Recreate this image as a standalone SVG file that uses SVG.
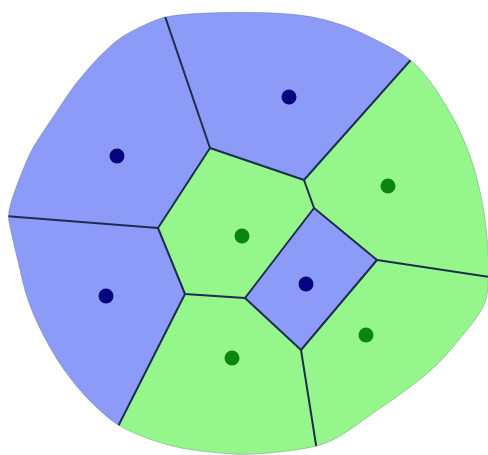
<svg xmlns="http://www.w3.org/2000/svg" width="488" height="455" viewBox="0 0 488 455">
<defs>
<style>
.blue{fill:#8b9bf7;}
.green{fill:#95f78b;}
.edge{stroke:#1c2d4d;stroke-width:2;fill:none;stroke-linecap:round;stroke-linejoin:round;}
.rim{fill:none;stroke:#4a5a6a;stroke-width:0.7;stroke-opacity:0.45;}
.sb{fill:#05067f;}
.sg{fill:#0a860c;}
</style>
<path id="outline" d="M160,18.5 Q167,16 183.5,14.5 Q200,13 222,12.5 Q244,12 262,12.5 Q280,13 295.5,14.5 Q311,16 328,20.5 Q345,25 361,32.5 Q377,40 393.5,49 Q410,58 420,69 Q430,80 438.5,93.5 Q447,107 453.5,118.5 Q460,130 466.5,146.5 Q473,163 476.5,176.5 Q480,190 482.5,203.5 Q485,217 486.5,232 Q488,247 488.5,261 Q489,275 488,287.5 Q487,300 482.5,308 Q478,316 472.5,323 Q467,330 453.5,346.5 Q440,363 423.5,376.5 Q407,390 390,401.5 Q373,413 356.5,425 Q340,437 328.5,442 Q317,447 295,450 Q273,453 256.5,454 Q240,455 225,453.5 Q210,452 196.5,450.5 Q183,449 166.5,444.5 Q150,440 134,433 Q118,426 109,418.5 Q100,411 91.5,402.5 Q83,394 76.5,386 Q70,378 63.5,369 Q57,360 50.5,348.5 Q44,337 38.5,325.5 Q33,314 29,303 Q25,292 22.5,281 Q20,270 17,257.5 Q14,245 12,236 Q10,227 9,222 Q8,217 9,211 Q10,205 12.5,197.5 Q15,190 17.5,183.5 Q20,177 23,169.5 Q26,162 29.5,154.5 Q33,147 38,139.5 Q43,132 48,124.5 Q53,117 58,109.5 Q63,102 68,94.5 Q73,87 78,81 Q83,75 88,69 Q93,63 99,57 Q105,51 111,45.5 Q117,40 122.5,36.5 Q128,33 134,30 Q140,27 146.5,24 Q153,21 160,18.5 Z"/>
<clipPath id="blob">
<use href="#outline"/>
</clipPath>
</defs>
<g id="cells" clip-path="url(#blob)">
<polygon id="cell-topleft" class="blue" points="-20,214 158,228 210,148 156,-10 -20,-10"/>
<polygon id="cell-top" class="blue" points="156,-10 210,148 304,180 473,-10"/>
<polygon id="cell-right-top" class="green" points="473,-10 304,180 314,208 377,260 510,280 510,-10"/>
<polygon id="cell-center" class="green" points="210,148 304,180 314,208 245,298 185,294 158,228"/>
<polygon id="cell-diamond" class="blue" points="314,208 377,260 301,350 245,298"/>
<polygon id="cell-right-bottom" class="green" points="377,260 510,280 510,470 320,470 301,350"/>
<polygon id="cell-bottom" class="green" points="185,294 245,298 301,350 320,470 96,470"/>
<polygon id="cell-left-bottom" class="blue" points="-20,214 158,228 185,294 96,470 -20,470"/>
</g>
<use class="rim" href="#outline"/>
<g id="connectors" class="edge" clip-path="url(#blob)">
<polyline points="156,-10 210,148 158,228 -20,214"/>
<polyline points="210,148 304,180 473,-10"/>
<polyline points="304,180 314,208 377,260 510,280"/>
<polyline points="314,208 245,298 301,350 377,260"/>
<polyline points="245,298 185,294 158,228"/>
<line x1="185" y1="294" x2="96" y2="470"/>
<line x1="301" y1="350" x2="320" y2="470"/>
</g>
<g id="sites">
<circle id="s1" class="sb" cx="117" cy="156" r="7.5"/>
<circle id="s2" class="sb" cx="289" cy="97" r="7.5"/>
<circle id="s3" class="sb" cx="106" cy="296" r="7.5"/>
<circle id="s4" class="sb" cx="306" cy="284" r="7.5"/>
<circle id="s5" class="sg" cx="388" cy="186" r="7.5"/>
<circle id="s6" class="sg" cx="242" cy="236" r="7.5"/>
<circle id="s7" class="sg" cx="232" cy="358" r="7.5"/>
<circle id="s8" class="sg" cx="366" cy="335" r="7.5"/>
</g>
</svg>
